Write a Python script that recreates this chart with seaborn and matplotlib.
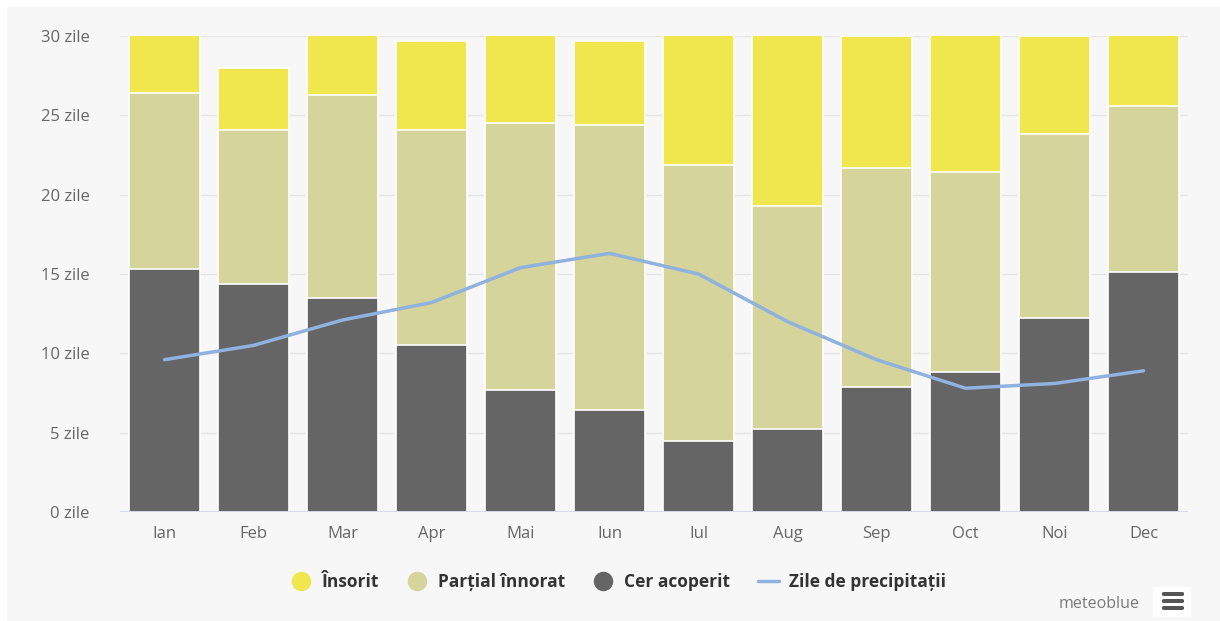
import matplotlib
matplotlib.use("Agg")
import matplotlib.pyplot as plt
import matplotlib.patches as mpatches
from matplotlib.lines import Line2D
import numpy as np
import pandas as pd
import seaborn as sns

months = ["Ian", "Feb", "Mar", "Apr", "Mai", "Iun", "Iul", "Aug", "Sep", "Oct", "Noi", "Dec"]
overcast = [15.3, 14.4, 13.5, 10.5, 7.7, 6.4, 4.5, 5.2, 7.9, 8.8, 12.2, 15.1]
partial = [11.1, 9.7, 12.8, 13.6, 16.8, 18.0, 17.4, 14.1, 13.8, 12.6, 11.6, 10.5]
sunny = [4.6, 3.9, 4.7, 5.6, 6.5, 5.3, 9.1, 11.7, 8.3, 9.6, 6.2, 5.4]
precip = [9.6, 10.5, 12.1, 13.2, 15.4, 16.3, 15.0, 12.0, 9.6, 7.8, 8.1, 8.9]
yticks = [0, 5, 10, 15, 20, 25, 30]

C_SUN = "#f0e64e"
C_PART = "#d5d49b"
C_OVER = "#656565"
C_LINE = "#8fb2de"
BG = "#f7f7f7"

sns.set_theme(style="white")
plt.rcParams["font.family"] = ["Open Sans", "DejaVu Sans"]

df = pd.DataFrame({"month": months, "overcast": overcast, "partial": partial,
                   "sunny": sunny, "precip": precip})
df["lvl2"] = df["overcast"] + df["partial"]
df["lvl3"] = df["lvl2"] + df["sunny"]

fig = plt.figure(figsize=(12.2, 6.21), dpi=100, facecolor="white")
fig.patches.append(mpatches.Rectangle((7 / 1220, 0), 1, 1 - 7 / 621, transform=fig.transFigure,
                                      facecolor=BG, edgecolor="none", zorder=-10))
ax = fig.add_axes([120 / 1220, 1 - 512 / 621, 1068 / 1220, 476 / 621])
ax.set_facecolor(BG)

for col, c in [("lvl3", C_SUN), ("lvl2", C_PART), ("overcast", C_OVER)]:
    sns.barplot(data=df, x="month", y=col, color=c, saturation=1, width=0.8,
                edgecolor="white", linewidth=1.2, errorbar=None, ax=ax, zorder=3)

sns.lineplot(x=np.arange(len(months)), y=df["precip"], color=C_LINE, linewidth=2.5,
             ax=ax, zorder=5)

ax.set_xlim(-0.5, len(months) - 0.5)
ax.set_ylim(0, 30)
ax.set_yticks(yticks)
ax.set_yticklabels([f"{v} zile" for v in yticks])
ax.set_xlabel("")
ax.set_ylabel("")
for s in ax.spines.values():
    s.set_visible(False)
ax.grid(axis="y", color="#e4e4e4", linewidth=1, zorder=0)
ax.set_axisbelow(True)
ax.axhline(0, color="#ccd6eb", linewidth=1.2, zorder=4)
ax.tick_params(axis="both", length=0, labelsize=12, labelcolor="#666666")
ax.tick_params(axis="y", pad=22)
ax.tick_params(axis="x", pad=10)

handles = [
    Line2D([], [], marker="o", linestyle="none", markersize=13, markerfacecolor=C_SUN, markeredgecolor=C_SUN),
    Line2D([], [], marker="o", linestyle="none", markersize=13, markerfacecolor=C_PART, markeredgecolor=C_PART),
    Line2D([], [], marker="o", linestyle="none", markersize=13, markerfacecolor=C_OVER, markeredgecolor=C_OVER),
    Line2D([], [], color=C_LINE, linewidth=2.5),
]
labels = ["Însorit", "Parțial înnorat", "Cer acoperit", "Zile de precipitații"]
leg = fig.legend(handles, labels, loc="center", bbox_to_anchor=(618 / 1220, 1 - 582 / 621),
                 ncol=4, frameon=False, handlelength=1.2, handletextpad=0.6, columnspacing=1.6,
                 prop={"weight": "bold", "size": 12.5})
for t in leg.get_texts():
    t.set_color("#333333")

fig.text(1140 / 1220, 1 - 604 / 621, "meteoblue", ha="right", va="center",
         fontsize=11.5, color="#7a7a7a")
fig.patches.append(mpatches.Rectangle((1153 / 1220, 1 - 617 / 621), 38 / 1220, 30 / 621,
                                      transform=fig.transFigure, facecolor="white",
                                      edgecolor="none", zorder=1))
for i, yy in enumerate([594, 601, 608]):
    fig.patches.append(mpatches.FancyBboxPatch((1162 / 1220, 1 - (yy + 2) / 621), 22 / 1220, 4 / 621,
                                               boxstyle="round,pad=0,rounding_size=0.002",
                                               transform=fig.transFigure, facecolor="#555555",
                                               edgecolor="none", zorder=2))

fig.savefig("out.png", dpi=100, facecolor=fig.get_facecolor())
